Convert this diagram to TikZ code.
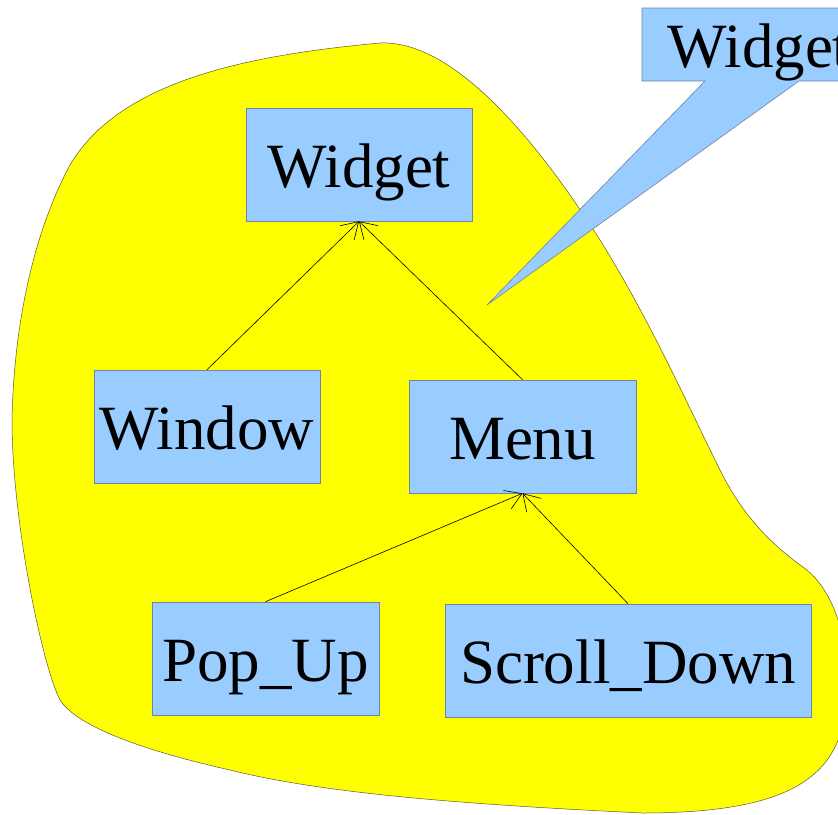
\documentclass[tikz,border=0pt]{standalone}
\usepackage{fontspec}
\setmainfont{Liberation Serif}
\usetikzlibrary{arrows.meta}

\definecolor{boxblue}{RGB}{153,204,255}
\definecolor{boxline}{RGB}{110,130,170}
\definecolor{blobfill}{RGB}{255,255,0}
\definecolor{blobline}{RGB}{90,90,60}

\tikzset{
  cls/.style={draw=boxline, fill=boxblue, line width=0.6pt, inner sep=0pt,
    minimum width=226pt, minimum height=113pt, text height=45pt, text depth=0pt,
    font=\fontsize{63}{70}\selectfont},
  inherit/.style={draw=black, line width=0.6pt,
    -{Straight Barb[length=16pt,width=20pt,line width=0.6pt]}}
}

\begin{document}
\begin{tikzpicture}[x=1pt,y=-1pt]
  \useasboundingbox (0,0) rectangle (838,814);
  \clip (0,0) rectangle (838,814);

  % yellow package region
  \draw[blobline, fill=blobfill, line width=0.5pt]
    (380,43) .. controls (450,40) and (530,130) .. (600,240)
    .. controls (650,320) and (690,410) .. (720,470)
    .. controls (740,510) and (765,540) .. (803,567)
    .. controls (850,600) and (858,700) .. (836,745)
    .. controls (815,790) and (760,813) .. (642,813)
    .. controls (480,805) and (330,795) .. (230,770)
    .. controls (150,752) and (78,728) .. (60,700)
    .. controls (42,665) and (12,520) .. (12,420)
    .. controls (14,320) and (35,230) .. (70,165)
    .. controls (120,80) and (250,55) .. (380,43) -- cycle;

  % callout with its pointer
  \draw[boxline, fill=boxblue, line width=0.6pt]
    (642,8) -- (900,8) -- (900,81) -- (799,81) -- (487,305) -- (705,81) -- (642,81) -- cycle;
  \node[cls, draw=none, fill=none, minimum width=234pt, minimum height=73pt] (note) at (759,44.5) {Widget};

  % classes
  \node[cls] (widget) at (359,164.5) {Widget};
  \node[cls] (window) at (207,426.5) {Window};
  \node[cls, minimum width=227pt] (menu) at (522.5,436.5) {Menu};
  \node[cls, minimum width=227pt] (popup) at (265.5,658.5) {Pop\_Up};
  \node[cls, minimum width=366pt] (scroll) at (628,660.5) {Scroll\_Down};

  % inheritance
  \draw[inherit] (window.north) -- (widget.south);
  \draw[inherit] (menu.north) -- (widget.south);
  \draw[inherit] (popup.north) -- (menu.south);
  \draw[inherit] (scroll.north) -- (menu.south);
\end{tikzpicture}
\end{document}
